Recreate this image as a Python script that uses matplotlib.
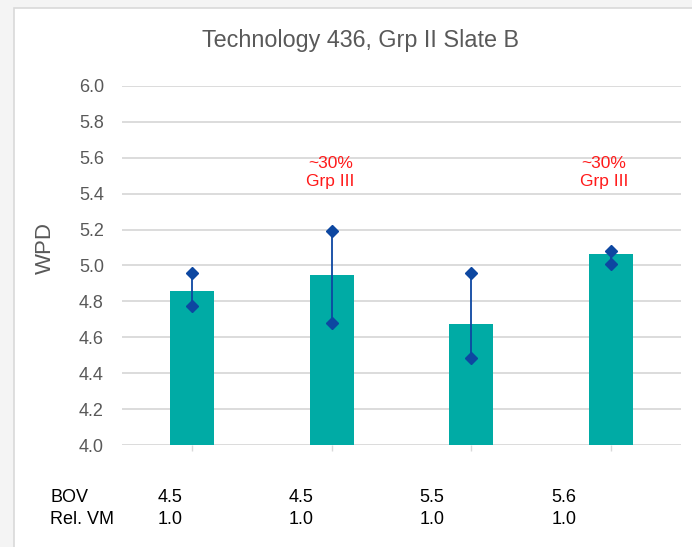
import matplotlib.pyplot as plt
from matplotlib.patches import Rectangle

plt.rcParams['font.family'] = ['Liberation Sans', 'DejaVu Sans']

# data
groups = ['A', 'B', 'C', 'D']
wpd_mean = [4.86, 4.945, 4.675, 5.065]
wpd_high = [4.96, 5.19, 4.96, 5.08]
wpd_low = [4.775, 4.68, 4.485, 5.01]
bov = ['4.5', '4.5', '5.5', '5.6']
rel_vm = ['1.0', '1.0', '1.0', '1.0']
notes = {1: '~30%\nGrp III', 3: '~30%\nGrp III'}
yticks = [4.0, 4.2, 4.4, 4.6, 4.8, 5.0, 5.2, 5.4, 5.6, 5.8, 6.0]

fig = plt.figure(figsize=(6.92, 5.47), dpi=100, facecolor='#f4f4f4')
# white slide panel
panel = Rectangle((14 / 692, -0.01), 1.0, (547 - 8) / 547 + 0.01,
                  transform=fig.transFigure, facecolor='white',
                  edgecolor='#d9d9d9', linewidth=1.2, zorder=-5)
fig.add_artist(panel)

ax = fig.add_axes([122 / 692, (547 - 445) / 547, (681 - 122) / 692, (445 - 86) / 547])
ax.set_facecolor('none')

x = list(range(len(groups)))
ax.bar(x, wpd_mean, width=0.315, color='#00ABA5', zorder=2)
for i in x:
    ax.plot([i, i], [wpd_low[i], wpd_high[i]], color='#0D47A1', lw=1.3,
            marker='D', markersize=6.5, zorder=3)

ax.set_xlim(-0.5, 3.5)
ax.set_ylim(4.0, 6.0)
ax.set_yticks(yticks)
ax.set_yticklabels([f'{v:.1f}' for v in yticks])
ax.grid(axis='y', color='#d9d9d9', lw=1.3, zorder=0)
ax.set_axisbelow(True)
for s in ax.spines.values():
    s.set_visible(False)
ax.tick_params(axis='y', length=0, pad=13, labelsize=13, labelcolor='#595959')
ax.set_xticks(x)
ax.set_xticklabels([''] * len(x))
ax.tick_params(axis='x', length=4, color='#d9d9d9', width=1)

ax.set_ylabel('WPD', fontsize=16, color='#595959')
ax.yaxis.set_label_coords(-0.119, 0.549)
fig.text(361 / 692, 1 - 40 / 547, 'Technology 436, Grp II Slate B',
         fontsize=16.8, color='#595959', ha='center', va='center')

for i, txt in notes.items():
    ax.text(i - 0.01 if i == 1 else i - 0.05, 5.52, txt, color='#ff1a1a',
            fontsize=12.5, ha='center', va='center', linespacing=1.25)

# table under the axis
fig.text(50 / 692, 1 - 497 / 547, 'BOV', fontsize=13, va='center', color='black')
fig.text(50 / 692, 1 - 520 / 547, 'Rel. VM', fontsize=13, va='center', color='black')
xs = [170, 301, 432, 564]
for xp, b, r in zip(xs, bov, rel_vm):
    fig.text(xp / 692, 1 - 497 / 547, b, fontsize=13, ha='center', va='center')
    fig.text(xp / 692, 1 - 520 / 547, r, fontsize=13, ha='center', va='center')

fig.savefig('out.png', dpi=100, facecolor=fig.get_facecolor())
